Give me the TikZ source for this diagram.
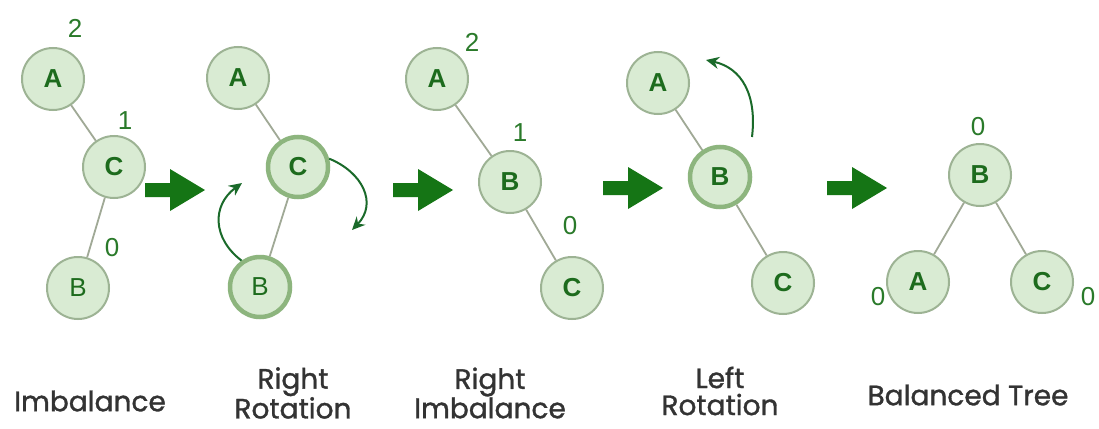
\documentclass[tikz,border=0pt]{standalone}
\usepackage{fontspec}
\setmainfont{Liberation Sans}
\newfontfamily\labelfont{Poppins}[FakeBold=1.2]
\usetikzlibrary{arrows.meta}
\definecolor{nodefill}{HTML}{D9EBD3}
\definecolor{nodeline}{HTML}{9DB394}
\definecolor{activeline}{HTML}{8DB57E}
\definecolor{edgecol}{HTML}{A0A996}
\definecolor{lettercol}{HTML}{1D6B1D}
\definecolor{numcol}{HTML}{2A7A2A}
\definecolor{bigarrow}{HTML}{157515}
\definecolor{rotcol}{HTML}{1A6A2A}
\definecolor{capcol}{HTML}{333333}
\tikzset{
  tnode/.style={circle, draw=nodeline, line width=2pt, fill=nodefill,
    minimum size=62pt, inner sep=0pt, text=lettercol,
    font=\fontsize{26}{26}\selectfont\bfseries},
  plain/.style={font=\fontsize{26}{26}\selectfont},
  active/.style={draw=activeline, line width=4.5pt, minimum size=60pt},
  bal/.style={text=numcol, font=\fontsize{26}{26}\selectfont, inner sep=0pt},
  link/.style={draw=edgecol, line width=1.8pt},
  stage/.style={fill=bigarrow},
  rot/.style={draw=rotcol, line width=2pt, -{Stealth[length=13pt,width=12pt]}},
  caption/.style={text=capcol, align=center,
    font=\labelfont\fontsize{28}{27}\selectfont, inner sep=0pt}
}
% block arrow between stages, centred on a named coordinate
\newcommand\stagearrow[1]{%
  \fill[stage, shift={(#1)}] (-30,-7) -- (-5,-7) -- (-5,-21) -- (30,0)
    -- (-5,21) -- (-5,7) -- (-30,7) -- cycle;}
\begin{document}
\begin{tikzpicture}[x=1pt,y=-1pt]
\useasboundingbox (0,0) rectangle (1099,428);
\fill[white] (0,0) rectangle (1099,428);

% stage 1: imbalance
\node[tnode] (a1) at (53,79) {A};
\node[tnode] (c1) at (114,167) {C};
\node[tnode, plain] (b1) at (78,288) {B};
\draw[link] (a1) -- (c1);
\draw[link] (c1) -- (b1);
\node[bal] (n1a) at (75,28) {2};
\node[bal] (n1c) at (125,121) {1};
\node[bal] (n1b) at (112,248) {0};

% stage 2: right rotation
\node[tnode] (a2) at (238,78) {A};
\node[tnode, active] (c2) at (298,167) {C};
\node[tnode, plain, active] (b2) at (260,287) {B};
\draw[link] (a2) -- (c2);
\draw[link] (c2) -- (b2);
\coordinate (r1e) at (242,183);
\coordinate (r2e) at (352,230);
\draw[rot] (b2.125) .. controls (212,238) and (212,205) .. (r1e);
\draw[rot] (c2.15) .. controls (362,172) and (378,203) .. (r2e);

% stage 3: right imbalance
\node[tnode] (a3) at (437,79) {A};
\node[tnode] (b3) at (510,182) {B};
\node[tnode] (c3) at (572,288) {C};
\draw[link] (a3) -- (b3);
\draw[link] (b3) -- (c3);
\node[bal] (n3a) at (472,42) {2};
\node[bal] (n3b) at (520,133) {1};
\node[bal] (n3c) at (570,226) {0};

% stage 4: left rotation
\node[tnode] (a4) at (658,83) {A};
\node[tnode, active] (b4) at (720,177) {B};
\node[tnode] (c4) at (783,283) {C};
\draw[link] (a4) -- (b4);
\draw[link] (b4) -- (c4);
\coordinate (r3s) at (752,137);
\coordinate (r3e) at (706,60);
\draw[rot] (r3s) .. controls (757,95) and (742,68) .. (r3e);

% stage 5: balanced tree
\node[tnode] (b5) at (980,175) {B};
\node[tnode] (a5) at (918,282) {A};
\node[tnode] (c5) at (1042,282) {C};
\draw[link] (b5) -- (a5);
\draw[link] (b5) -- (c5);
\node[bal] (n5b) at (978,127) {0};
\node[bal] (n5a) at (878,297) {0};
\node[bal] (n5c) at (1088,297) {0};

% transitions
\coordinate (s1) at (175,190);
\coordinate (s2) at (423,190);
\coordinate (s3) at (633,188);
\coordinate (s4) at (857,188);
\stagearrow{s1}
\stagearrow{s2}
\stagearrow{s3}
\stagearrow{s4}

% captions
\node[caption] (t1) at (90,401) {Imbalance};
\node[caption] (t2) at (293,393) {Right\\Rotation};
\node[caption] (t3) at (490,393) {Right\\Imbalance};
\node[caption] (t4) at (720,391) {Left\\Rotation};
\node[caption] (t5) at (968,395) {Balanced Tree};
\end{tikzpicture}
\end{document}
